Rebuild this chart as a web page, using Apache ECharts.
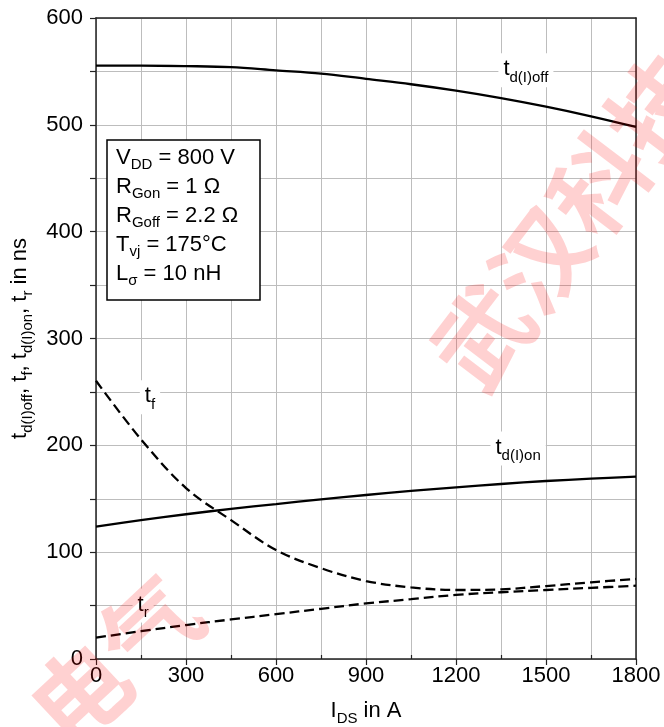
<!DOCTYPE html>
<html>
<head>
<meta charset="utf-8">
<script src="https://cdn.jsdelivr.net/npm/echarts@6/dist/echarts.min.js"></script>
<style>
html,body{margin:0;padding:0;background:#fff;}
#chart{width:664px;height:727px;}
</style>
</head>
<body>
<div id="chart"></div>
<script>
// drain current in A
var currents=[0,150,300,450,600,750,900,1050,1200,1350,1500,1650,1800];
// switching times in ns
var tdOff=[555.5,555.5,555,554,551,548,543,538,532,525,517,508,498];
var tdOn=[124,130,135.5,140.5,145,149.5,153.5,157.3,160.7,163.8,166.6,168.8,170.7];
var tf=[260.5,205.6,160,130,102,85,73,67,64.6,65.2,68.3,71.8,74.9];
var tr=[20,26,31.8,37,42,47,52,56,60,62.5,64.6,66.6,68.6];
// curve label anchors [I, t]
var labelTdOff=[1433,551];
var labelTf=[180,245];
var labelTdOn=[1407,197];
var labelTr=[157,50];

var FONT='Liberation Sans, Arial, sans-serif';
var SUB={fontSize:15,lineHeight:15,verticalAlign:'bottom',fontFamily:FONT,color:'#000'};

function pairs(ys){
	var out=[];
	for(var i=0;i<currents.length;i++){
		out.push([currents[i],ys[i]]);
	}
	return out;
}

function curveLabel(coord,text){
	return {
		silent:true,
		symbol:'circle',
		symbolSize:0,
		data:[{coord:coord}],
		label:{
			show:true,
			position:'inside',
			formatter:text,
			backgroundColor:'#fff',
			padding:[0,5,2,5],
			color:'#000',
			fontFamily:FONT,
			fontSize:22,
			lineHeight:32,
			rich:{s:SUB}
		}
	};
}

function curve(name,ys,dashed,mark){
	return {
		type:'line',
		name:name,
		data:pairs(ys),
		smooth:0.35,
		showSymbol:false,
		lineStyle:{color:'#000',width:2.3,type:dashed?[10,5]:'solid'},
		z:5,
		markPoint:mark
	};
}

var chart=echarts.init(document.getElementById('chart'));
var option={
	backgroundColor:'#fff',
	animation:false,
	grid:{left:96,top:18,right:28,bottom:68,containLabel:false,outerBoundsMode:'none'},
	xAxis:[{
		type:'value',
		min:0,max:1800,interval:300,
		name:'I{s|DS} in A',
		nameLocation:'middle',
		nameGap:37,
		nameTextStyle:{color:'#000',fontFamily:FONT,fontSize:22,lineHeight:30,rich:{s:SUB}},
		axisLine:{lineStyle:{color:'#222',width:1.5}},
		axisTick:{show:true,length:6,lineStyle:{color:'#222',width:1.2}},
		minorTick:{show:true,splitNumber:2,length:-4,lineStyle:{color:'#222',width:1.2}},
		axisLabel:{color:'#000',fontFamily:FONT,fontSize:22,margin:6,formatter:function(v){return String(v);}},
		splitLine:{show:true,lineStyle:{color:'#bdbdbd',width:1}},
		minorSplitLine:{show:true,lineStyle:{color:'#bdbdbd',width:1}}
	},{
		type:'value',position:'top',min:0,max:1800,
		axisLine:{show:true,onZero:false,lineStyle:{color:'#222',width:1.5}},
		axisTick:{show:false},axisLabel:{show:false},splitLine:{show:false}
	}],
	yAxis:[{
		type:'value',
		min:0,max:600,interval:100,
		name:'t{s|d(I)off}, t{s|f}, t{s|d(I)on}, t{s|r} in ns',
		nameLocation:'middle',
		nameGap:60,
		nameRotate:90,
		nameTextStyle:{color:'#000',fontFamily:FONT,fontSize:22,lineHeight:30,rich:{s:SUB}},
		axisLine:{show:true,lineStyle:{color:'#222',width:1.5}},
		axisTick:{show:true,length:6,lineStyle:{color:'#222',width:1.2}},
		minorTick:{show:true,splitNumber:2,length:6,lineStyle:{color:'#222',width:1.2}},
		axisLabel:{color:'#000',fontFamily:FONT,fontSize:22,margin:13,formatter:function(v){return String(v);}},
		splitLine:{show:true,lineStyle:{color:'#bdbdbd',width:1}},
		minorSplitLine:{show:true,lineStyle:{color:'#bdbdbd',width:1}}
	},{
		type:'value',position:'right',min:0,max:600,
		axisLine:{show:true,onZero:false,lineStyle:{color:'#222',width:1.5}},
		axisTick:{show:false},axisLabel:{show:false},splitLine:{show:false}
	}],
	series:[
		curve('td(I)off',tdOff,false,curveLabel(labelTdOff,'t{s|d(I)off}')),
		curve('td(I)on',tdOn,false,curveLabel(labelTdOn,'t{s|d(I)on}')),
		curve('tf',tf,true,curveLabel(labelTf,'t{s|f}')),
		curve('tr',tr,true,curveLabel(labelTr,'t{s|r}'))
	],
	graphic:[
		{
			type:'rect',
			shape:{x:107,y:140,width:153,height:160},
			style:{fill:'#fff',stroke:'#000',lineWidth:1.5},
			z:10
		},
		{
			type:'text',
			x:116,y:143,
			z:11,
			style:{
				text:'V{s|DD} = 800 V\nR{s|Gon} = 1 Ω\nR{s|Goff} = 2.2 Ω\nT{s|vj} = 175°C\nL{s|σ} = 10 nH',
				fill:'#000',
				font:'22px '+FONT,
				lineHeight:29,
				rich:{s:{fontSize:15,lineHeight:15,verticalAlign:'bottom',fontFamily:FONT,fill:'#000'}}
			}
		},
		{
			type:'text',
			x:570,y:222,
			rotation:0.92,
			silent:true,
			z:20,
			style:{
				text:'武汉科技',
				fill:'rgba(255,0,0,0.18)',
				font:'bold 96px "Noto Sans CJK SC"',
				align:'center',verticalAlign:'middle'
			}
		},
		{
			type:'text',
			x:115,y:660,
			rotation:0.75,
			silent:true,
			z:20,
			style:{
				text:'电气',
				fill:'rgba(255,0,0,0.18)',
				font:'bold 96px "Noto Sans CJK SC"',
				align:'center',verticalAlign:'middle'
			}
		}
	]
};
chart.setOption(option);
</script>
</body>
</html>
